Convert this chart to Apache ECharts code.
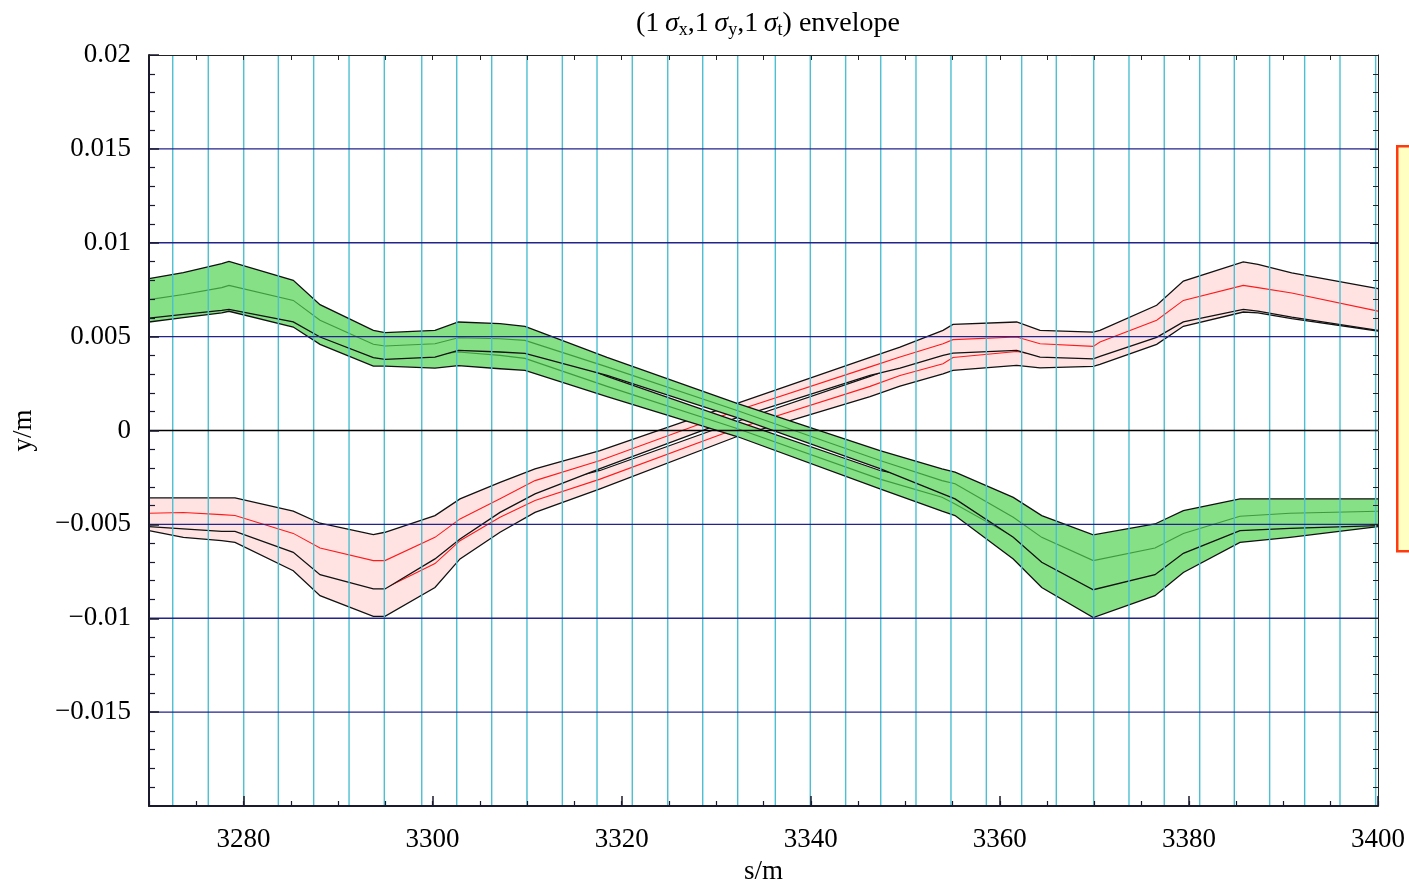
<!DOCTYPE html>
<html>
<head>
<meta charset="utf-8">
<script src="https://cdn.jsdelivr.net/npm/echarts/dist/echarts.min.js"></script>
<style>
  html, body { margin: 0; padding: 0; background: #ffffff; }
  #chart { width: 1409px; height: 885px; }
</style>
</head>
<body>
<div id="chart"></div>
<script>
// ---- envelope data: s (m) and y (m) for two beams, each with two sub-envelopes ----
const S_GREEN = [3270.00, 3273.63, 3277.69, 3278.46, 3285.26, 3288.09, 3293.73, 3294.96, 3300.25, 3302.72,
  3307.13, 3309.77, 3318.45, 3332.20, 3347.32, 3353.88, 3355.26, 3361.42, 3364.43, 3369.88,
  3376.41, 3379.41, 3385.40, 3390.69, 3400.00];
const GREEN_A_UP = [0.00809, 0.00841, 0.00889, 0.00901, 0.00800, 0.00670, 0.00533, 0.00521, 0.00533, 0.00578,
  0.00569, 0.00555, 0.00389, 0.00144, -0.00107, -0.00204, -0.00222, -0.00356, -0.00453, -0.00556,
  -0.00498, -0.00427, -0.00364, -0.00364, -0.00364];
const GREEN_A_MID = [0.00697, 0.00724, 0.00761, 0.00773, 0.00693, 0.00587, 0.00459, 0.00450, 0.00462, 0.00494,
  0.00489, 0.00480, 0.00339, 0.00107, -0.00160, -0.00267, -0.00284, -0.00462, -0.00569, -0.00693,
  -0.00626, -0.00548, -0.00457, -0.00441, -0.00430];
const GREEN_A_LO = [0.00599, 0.00619, 0.00640, 0.00645, 0.00578, 0.00498, 0.00388, 0.00379, 0.00391, 0.00427,
  0.00418, 0.00411, 0.00293, 0.00069, -0.00203, -0.00336, -0.00364, -0.00569, -0.00702, -0.00848,
  -0.00768, -0.00654, -0.00533, -0.00521, -0.00507];
const GREEN_B_UP = [0.00789, 0.00821, 0.00875, 0.00891, 0.00773, 0.00632, 0.00489, 0.00485, 0.00475, 0.00496,
  0.00480, 0.00459, 0.00288, 0.00048, -0.00213, -0.00277, -0.00309, -0.00459, -0.00587, -0.00704,
  -0.00608, -0.00528, -0.00427, -0.00411, -0.00368];
const GREEN_B_MID = [0.00677, 0.00707, 0.00747, 0.00763, 0.00667, 0.00548, 0.00414, 0.00414, 0.00404, 0.00418,
  0.00400, 0.00384, 0.00235, 0.00011, -0.00259, -0.00356, -0.00391, -0.00565, -0.00699, -0.00841,
  -0.00736, -0.00651, -0.00520, -0.00491, -0.00436];
const GREEN_B_LO = [0.00578, 0.00601, 0.00626, 0.00635, 0.00551, 0.00459, 0.00343, 0.00343, 0.00332, 0.00345,
  0.00329, 0.00320, 0.00181, -0.00032, -0.00311, -0.00430, -0.00453, -0.00684, -0.00836, -0.00996,
  -0.00880, -0.00756, -0.00596, -0.00569, -0.00512];

const S_PINK = [3270.00, 3273.63, 3277.69, 3279.10, 3285.26, 3288.09, 3293.73, 3294.96, 3300.25, 3302.90,
  3307.13, 3310.83, 3317.71, 3332.20, 3346.27, 3349.44, 3353.99, 3355.04, 3361.78, 3364.25,
  3369.88, 3370.59, 3376.59, 3379.41, 3385.75, 3387.30, 3390.87, 3400.00];
const PINK_A_UP = [-0.00359, -0.00359, -0.00359, -0.00359, -0.00430, -0.00494, -0.00555, -0.00542, -0.00453, -0.00364,
  -0.00276, -0.00204, -0.00107, 0.00144, 0.00389, 0.00444, 0.00533, 0.00565, 0.00578, 0.00533,
  0.00524, 0.00533, 0.00667, 0.00796, 0.00898, 0.00885, 0.00839, 0.00756];
const PINK_A_MID = [-0.00441, -0.00437, -0.00448, -0.00453, -0.00548, -0.00626, -0.00693, -0.00693, -0.00569, -0.00471,
  -0.00364, -0.00267, -0.00160, 0.00107, 0.00339, 0.00391, 0.00462, 0.00484, 0.00498, 0.00462,
  0.00448, 0.00471, 0.00587, 0.00693, 0.00773, 0.00761, 0.00732, 0.00636];
const PINK_A_LO = [-0.00512, -0.00524, -0.00537, -0.00537, -0.00649, -0.00768, -0.00844, -0.00844, -0.00684, -0.00578,
  -0.00436, -0.00338, -0.00203, 0.00069, 0.00293, 0.00332, 0.00400, 0.00412, 0.00427, 0.00391,
  0.00382, 0.00395, 0.00496, 0.00578, 0.00645, 0.00636, 0.00604, 0.00533];
const PINK_B_UP = [-0.00379, -0.00405, -0.00411, -0.00416, -0.00528, -0.00608, -0.00704, -0.00688, -0.00592, -0.00480,
  -0.00384, -0.00299, -0.00213, 0.00048, 0.00288, 0.00347, 0.00427, 0.00464, 0.00496, 0.00469,
  0.00480, 0.00491, 0.00629, 0.00773, 0.00888, 0.00875, 0.00827, 0.00752];
const PINK_B_MID = [-0.00461, -0.00480, -0.00501, -0.00507, -0.00640, -0.00736, -0.00840, -0.00840, -0.00709, -0.00587,
  -0.00462, -0.00373, -0.00259, 0.00011, 0.00235, 0.00293, 0.00356, 0.00389, 0.00421, 0.00400,
  0.00411, 0.00427, 0.00544, 0.00667, 0.00763, 0.00752, 0.00720, 0.00635];
const PINK_B_LO = [-0.00533, -0.00569, -0.00587, -0.00596, -0.00747, -0.00880, -0.00990, -0.00990, -0.00836, -0.00684,
  -0.00542, -0.00436, -0.00311, -0.00032, 0.00181, 0.00236, 0.00302, 0.00320, 0.00347, 0.00334,
  0.00341, 0.00352, 0.00459, 0.00555, 0.00631, 0.00626, 0.00596, 0.00530];

// element boundaries along the beam line (m)
const ELEMENT_EDGES = [3272.51, 3276.27, 3280.02, 3283.68, 3287.42, 3291.16, 3294.89, 3298.85, 3302.55, 3306.25,
  3309.98, 3313.72, 3317.39, 3321.12, 3324.87, 3328.57, 3332.27, 3336.25, 3339.95, 3343.69,
  3347.40, 3351.13, 3354.83, 3358.57, 3362.31, 3365.97, 3369.93, 3373.66, 3377.39, 3381.14,
  3384.80, 3388.54, 3392.24, 3395.98, 3399.75];

// horizontal reference lines (m)
const GRID_Y = [-0.015, -0.01, -0.005, 0, 0.005, 0.01, 0.015];

const S_MIN = 3270, S_MAX = 3400;
const Y_MIN = -0.02, Y_MAX = 0.02;

const FONT = 'Liberation Serif, Times New Roman, serif';
const EDGE = '#111111';

function bandData(s, lo, mid, up) {
  return s.map((v, i) => [v, lo[i], mid[i], up[i]]);
}

function bandRenderer(fill, midColor) {
  return function (params, api) {
    if (params.dataIndexInside !== 0) return null;
    const n = params.dataInsideLength;
    const up = [], mid = [], lo = [];
    for (let i = 0; i < n; i++) {
      const s = api.value(0, i);
      lo.push(api.coord([s, api.value(1, i)]));
      mid.push(api.coord([s, api.value(2, i)]));
      up.push(api.coord([s, api.value(3, i)]));
    }
    return {
      type: 'group',
      children: [
        { type: 'polygon', shape: { points: up.concat(lo.slice().reverse()) },
          style: { fill: fill, stroke: null } },
        { type: 'polyline', shape: { points: up }, style: { stroke: EDGE, lineWidth: 1.3, fill: null } },
        { type: 'polyline', shape: { points: lo }, style: { stroke: EDGE, lineWidth: 1.3, fill: null } },
        { type: 'polyline', shape: { points: mid }, style: { stroke: midColor, lineWidth: 1.1, fill: null } }
      ]
    };
  };
}

function bandSeries(name, data, fill, midColor, z) {
  return {
    name: name,
    type: 'custom',
    z: z,
    silent: true,
    xAxisIndex: 0,
    yAxisIndex: 0,
    dimensions: ['s', 'lo', 'mid', 'up'],
    encode: { x: 0, y: [1, 2, 3] },
    data: data,
    renderItem: bandRenderer(fill, midColor)
  };
}

const GREEN_FILL = '#86e086', GREEN_MID = '#3f9a3f';
const PINK_FILL = '#ffe3e3', PINK_MID = '#ff1a1a';

const chart = echarts.init(document.getElementById('chart'), null, { renderer: 'canvas' });

const yFmt = v => {
  if (Math.abs(v) < 1e-12) return '0';
  const a = String(+Math.abs(v).toFixed(4));
  return (v < 0 ? '\u2212' : '') + a;
};
const sFmt = v => String(Math.round(v));

const option = {
  backgroundColor: '#ffffff',
  animation: false,
  title: {
    text: '(1\u2009{s|\u03c3}{b|x},1\u2009{s|\u03c3}{b|y},1\u2009{s|\u03c3}{b|t}) envelope',
    left: 763,
    top: 4,
    textAlign: 'center',
    textStyle: {
      fontFamily: FONT, fontSize: 28, fontWeight: 'normal', color: '#000', lineHeight: 30,
      rich: {
        s: { fontFamily: FONT, fontSize: 28, fontStyle: 'italic', color: '#000', lineHeight: 30 },
        b: { fontFamily: FONT, fontSize: 18, color: '#000', verticalAlign: 'bottom', lineHeight: 18 }
      }
    }
  },
  grid: { left: 149, right: 31, top: 55, bottom: 79, containLabel: false, outerBoundsMode: 'none' },
  xAxis: [
    {
      type: 'value', position: 'bottom', min: S_MIN, max: S_MAX, splitNumber: 7, z: 8,
      name: 's/m', nameLocation: 'middle', nameGap: 52,
      nameTextStyle: { fontFamily: FONT, fontSize: 27, color: '#000' },
      axisLine: { show: true, onZero: false, lineStyle: { color: '#1a1a2e', width: 2 } },
      axisTick: { show: true, inside: true, length: 10, lineStyle: { color: '#1a1a2e', width: 1.5 } },
      axisLabel: { show: true, interval: 0, showMinLabel: false, margin: 20, formatter: sFmt,
        fontFamily: FONT, fontSize: 27, color: '#000' },
      splitLine: { show: false }
    },
    {
      type: 'value', position: 'bottom', min: S_MIN, max: S_MAX, interval: 5, z: 8,
      axisLine: { show: false, onZero: false },
      axisTick: { show: true, inside: true, length: 5, lineStyle: { color: '#1a1a2e', width: 1.2 } },
      axisLabel: { show: false },
      splitLine: { show: false }
    },
    {
      type: 'value', position: 'top', min: S_MIN, max: S_MAX, interval: 5, z: 8,
      axisLine: { show: true, onZero: false, lineStyle: { color: '#222', width: 1 } },
      axisTick: { show: true, inside: true, length: 5, lineStyle: { color: '#222', width: 1 } },
      axisLabel: { show: false },
      splitLine: { show: false }
    }
  ],
  yAxis: [
    {
      type: 'value', position: 'left', min: Y_MIN, max: Y_MAX, interval: 0.005, z: 8,
      name: 'y/m', nameLocation: 'middle', nameGap: 112, nameRotate: 90,
      nameTextStyle: { fontFamily: FONT, fontSize: 27, color: '#000' },
      axisLine: { show: true, onZero: false, lineStyle: { color: '#1a1a2e', width: 2 } },
      axisTick: { show: true, inside: true, length: 10, lineStyle: { color: '#1a1a2e', width: 1.5 } },
      minorTick: { show: true, splitNumber: 5, length: 6, lineStyle: { color: '#1a1a2e', width: 1.2 } },
      axisLabel: { show: true, showMinLabel: false, margin: 18, formatter: yFmt,
        fontFamily: FONT, fontSize: 27, color: '#000' },
      splitLine: { show: false }
    },
    {
      type: 'value', position: 'right', min: Y_MIN, max: Y_MAX, interval: 0.005, z: 8,
      axisLine: { show: true, onZero: false, lineStyle: { color: '#222', width: 1 } },
      axisTick: { show: true, inside: true, length: 8, lineStyle: { color: '#222', width: 1 } },
      minorTick: { show: true, splitNumber: 5, length: 5, lineStyle: { color: '#222', width: 1 } },
      axisLabel: { show: false },
      splitLine: { show: false }
    }
  ],
  graphic: [
    {
      type: 'rect', left: 1396, top: 145, z: 10,
      shape: { width: 40, height: 405 },
      style: { fill: '#ffffc2', stroke: '#ff3a10', lineWidth: 2.5 }
    }
  ],
  series: [
    bandSeries('beam 2 (b)', bandData(S_PINK, PINK_B_LO, PINK_B_MID, PINK_B_UP), PINK_FILL, PINK_MID, 1),
    bandSeries('beam 2 (a)', bandData(S_PINK, PINK_A_LO, PINK_A_MID, PINK_A_UP), PINK_FILL, PINK_MID, 2),
    bandSeries('beam 1 (b)', bandData(S_GREEN, GREEN_B_LO, GREEN_B_MID, GREEN_B_UP), GREEN_FILL, GREEN_MID, 3),
    bandSeries('beam 1 (a)', bandData(S_GREEN, GREEN_A_LO, GREEN_A_MID, GREEN_A_UP), GREEN_FILL, GREEN_MID, 4),
    {
      name: 'elements',
      type: 'custom', z: 5, silent: true,
      encode: { x: 0, y: 1 },
      data: ELEMENT_EDGES.map(s => [s, 0]),
      renderItem: function (params, api) {
        const cs = params.coordSys;
        const x = api.coord([api.value(0), 0])[0];
        return { type: 'line', shape: { x1: x, y1: cs.y, x2: x, y2: cs.y + cs.height },
          style: { stroke: '#4cbfd2', lineWidth: 1.4 } };
      }
    },
    {
      name: 'levels',
      type: 'custom', z: 6, silent: true,
      encode: { x: 0, y: 1 },
      data: GRID_Y.map(v => [S_MIN, v]),
      renderItem: function (params, api) {
        const cs = params.coordSys;
        const v = api.value(1);
        const y = api.coord([S_MIN, v])[1];
        return { type: 'line', shape: { x1: cs.x, y1: y, x2: cs.x + cs.width, y2: y },
          style: { stroke: v === 0 ? '#000000' : '#23238c', lineWidth: 1.3 } };
      }
    }
  ]
};

chart.setOption(option);
</script>
</body>
</html>
